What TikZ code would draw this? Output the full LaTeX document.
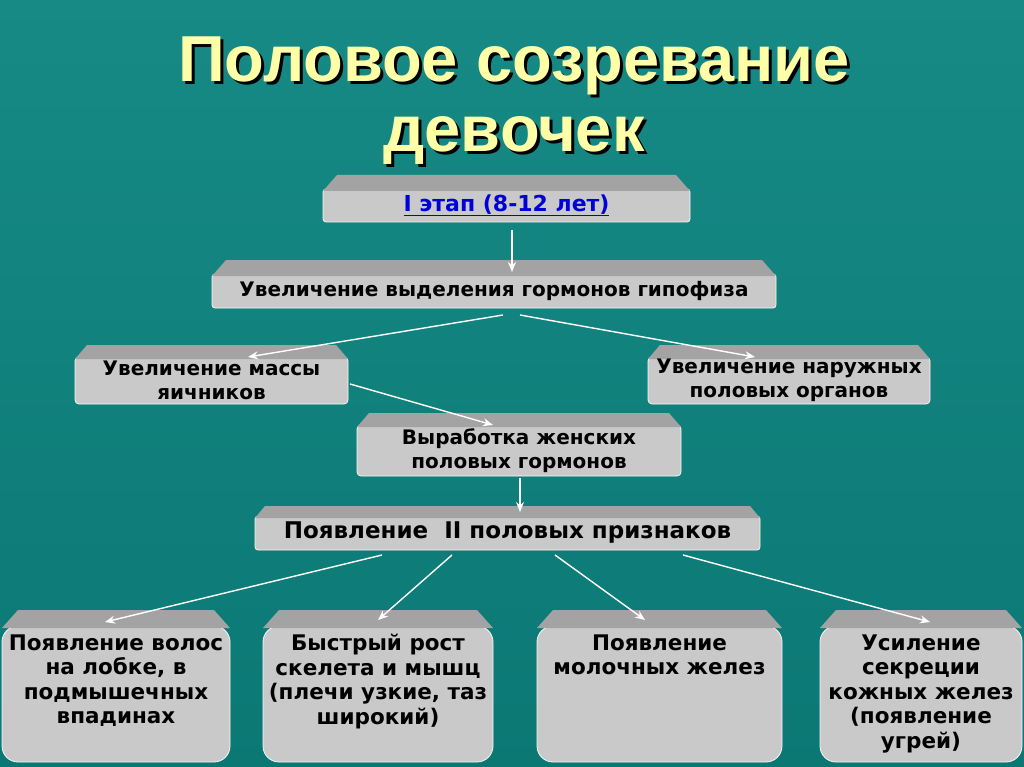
\documentclass[tikz,border=0pt]{standalone}
\usepackage{fontspec}
\setmainfont{DejaVu Sans}
\newfontfamily\titlefont{Liberation Sans}
\definecolor{bg}{HTML}{0B7874}
\definecolor{bgtop}{HTML}{178A85}
\definecolor{boxc}{HTML}{C9C9C9}
\definecolor{bandc}{HTML}{A3A3A3}
\definecolor{ttl}{HTML}{FFFFA8}
\usetikzlibrary{arrows.meta}
\tikzset{
  conn/.style={draw=white,line width=1.4pt,-{Stealth[length=10pt,width=8pt]}},
  lbl/.style={font=\bfseries\fontsize{20}{24}\selectfont,align=center,text=black},
  bot/.style={anchor=north,yshift=63pt,font=\bfseries\fontsize{21.5}{24.5}\selectfont},
  ttlstyle/.style={font=\titlefont\bfseries\fontsize{65}{70}\selectfont,align=center},
}
% #1 name, #2 x1, #3 y1, #4 x2, #5 y2, #6 bevel, #7 radius, #8 text style, #9 text
\newcommand\bevbox[9]{%
  \fill[boxc,rounded corners=#7] (#2,#3+#6) rectangle (#4,#5);
  \draw[white!85!boxc,line width=0.8pt,rounded corners=#7] (#2,#3+#6) rectangle (#4,#5);
  \fill[bandc] (#2+#6,#3) -- (#4-#6,#3) -- (#4,#3+#6+2) -- (#2,#3+#6+2) -- cycle;
  \node[lbl,#8] (#1) at ({(#2+#4)/2},{(#3+#5)/2+#6/2}) {#9};
}
\begin{document}
\begin{tikzpicture}[x=1pt,y=-1pt]
\shade[top color=bgtop,bottom color=bg] (0,0) rectangle (1024,767);
\useasboundingbox (0,0) rectangle (1024,767);
\node[ttlstyle,text=black] at (517,104) {Половое созревание\\девочек};
\node[ttlstyle,text=ttl] (title) at (514,101) {Половое созревание\\девочек};

\bevbox{b1}{323}{175}{690}{222}{14}{3pt}{text=blue!85!black,font=\bfseries\fontsize{22}{24}\selectfont}{\underline{I этап (8-12 лет)}}
\bevbox{b2}{212}{260}{776}{308}{14}{3pt}{}{Увеличение выделения гормонов гипофиза}
\bevbox{b3}{75}{345}{348}{404}{12}{4pt}{}{Увеличение массы\\яичников}
\bevbox{b4}{648}{345}{930}{404}{12}{4pt}{}{Увеличение наружных\\половых органов}
\bevbox{b5}{357}{413}{681}{476}{12}{4pt}{}{Выработка женских\\половых гормонов}
\bevbox{b6}{255}{506}{760}{550}{10}{3pt}{font=\bfseries\fontsize{23}{24}\selectfont}{Появление\ \ II половых признаков}
\bevbox{b7}{2}{610}{230}{762}{16}{16pt}{bot}{Появление волос\\на лобке, в\\подмышечных\\впадинах}
\bevbox{b8}{263}{610}{493}{762}{16}{16pt}{bot}{Быстрый рост\\скелета и мышц\\(плечи узкие, таз\\широкий)}
\bevbox{b9}{537}{610}{782}{762}{16}{16pt}{bot}{Появление\\молочных желез}
\bevbox{b10}{820}{610}{1022}{762}{16}{16pt}{bot}{Усиление\\секреции\\кожных желез\\(появление\\угрей)}

\coordinate (s1) at (512,230); \coordinate (t1) at (512,272);
\coordinate (s2) at (503,315); \coordinate (t2) at (248,357);
\coordinate (s3) at (520,315); \coordinate (t3) at (755,357);
\coordinate (s4) at (350,384); \coordinate (t4) at (493,425);
\coordinate (s5) at (520,478); \coordinate (t5) at (520,512);
\coordinate (s6) at (382,555); \coordinate (t6) at (105,622);
\coordinate (s7) at (452,555); \coordinate (t7) at (378,620);
\coordinate (s8) at (555,555); \coordinate (t8) at (645,620);
\coordinate (s9) at (683,555); \coordinate (t9) at (930,622);
\foreach \i in {1,...,9} {\draw[conn] (s\i) -- (t\i);}
\end{tikzpicture}
\end{document}
